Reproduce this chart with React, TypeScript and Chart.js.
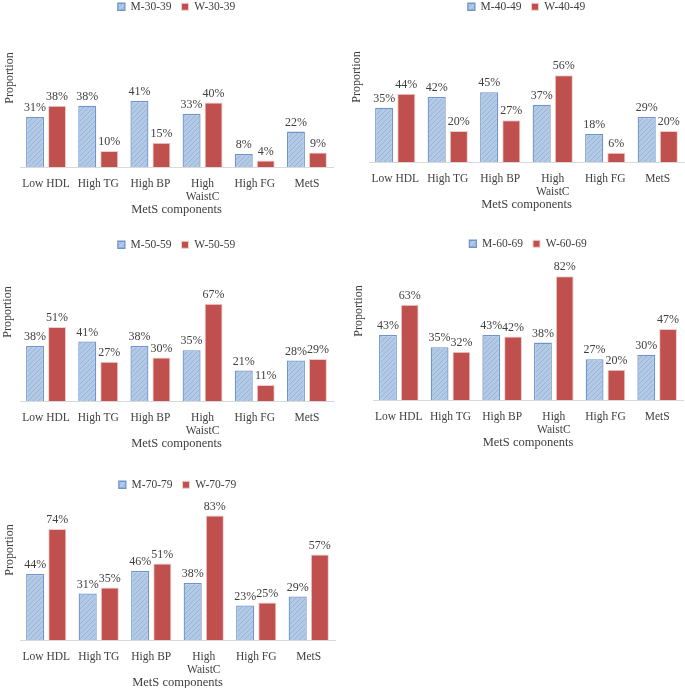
import React, { useEffect, useRef } from 'react';
import { Chart, registerables } from 'chart.js';
Chart.register(...registerables);

const categories: (string | string[])[] = ['Low HDL', 'High TG', 'High BP', ['High', 'WaistC'], 'High FG', 'MetS'];
const ageGroups = ['30-39', '40-49', '50-59', '60-69', '70-79'];
const men30 = [31, 38, 41, 33, 8, 22];
const women30 = [38, 10, 15, 40, 4, 9];
const men40 = [35, 42, 45, 37, 18, 29];
const women40 = [44, 20, 27, 56, 6, 20];
const men50 = [38, 41, 38, 35, 21, 28];
const women50 = [51, 27, 30, 67, 11, 29];
const men60 = [43, 35, 43, 38, 27, 30];
const women60 = [63, 32, 42, 82, 20, 47];
const men70 = [44, 31, 46, 38, 23, 29];
const women70 = [74, 35, 51, 83, 25, 57];

const xTitle = 'MetS components';
const yTitle = 'Proportion';
const FONT = "'Liberation Serif', 'Times New Roman', serif";
const TEXT = '#404040';

type PanelCfg = {
  age: string;
  men: number[];
  women: number[];
  left: number; top: number; width: number; height: number;
  axisLeft: number; axisRight: number; baseline: number; ppp: number;
  propX: number; propY: number;
};

const panels: PanelCfg[] = [
  { age: ageGroups[0], men: men30, women: women30, left: 0, top: -9, width: 340, height: 245, axisLeft: 20, axisRight: 333, baseline: 167, ppp: 1.61, propX: 10, propY: 78 },
  { age: ageGroups[1], men: men40, women: women40, left: 340, top: -9, width: 345, height: 245, axisLeft: 369, axisRight: 684, baseline: 162, ppp: 1.55, propX: 357, propY: 77 },
  { age: ageGroups[2], men: men50, women: women50, left: 0, top: 229, width: 340, height: 245, axisLeft: 20, axisRight: 333, baseline: 401, ppp: 1.45, propX: 8, propY: 312 },
  { age: ageGroups[3], men: men60, women: women60, left: 340, top: 228, width: 345, height: 245, axisLeft: 373, axisRight: 683, baseline: 400, ppp: 1.51, propX: 359, propY: 311 },
  { age: ageGroups[4], men: men70, women: women70, left: 0, top: 469, width: 340, height: 240, axisLeft: 20, axisRight: 335, baseline: 640, ppp: 1.5, propX: 10, propY: 550 },
];

function makeHatch(ctx: CanvasRenderingContext2D): CanvasPattern | string {
  const c = document.createElement('canvas');
  c.width = 5; c.height = 5;
  const p = c.getContext('2d');
  if (!p) return '#a9c2e0';
  p.fillStyle = '#b3cae6';
  p.fillRect(0, 0, 5, 5);
  p.strokeStyle = '#9ab4d8';
  p.lineWidth = 1;
  p.beginPath();
  p.moveTo(-1, 6); p.lineTo(6, -1);
  p.moveTo(-1, 1); p.lineTo(1, -1);
  p.moveTo(4, 6); p.lineTo(6, 4);
  p.stroke();
  return ctx.createPattern(c, 'repeat') || '#a9c2e0';
}

function PanelChart({ cfg }: { cfg: PanelCfg }) {
  const ref = useRef<HTMLCanvasElement>(null);
  useEffect(() => {
    const canvas = ref.current;
    if (!canvas) return;
    const ctx = canvas.getContext('2d');
    if (!ctx) return;
    const hatch = makeHatch(ctx);

    const valueLabels = {
      id: 'valueLabels',
      afterDatasetsDraw(chart: any) {
        const c = chart.ctx;
        c.save();
        c.font = `12px ${FONT}`;
        c.fillStyle = TEXT;
        c.textAlign = 'center';
        c.textBaseline = 'bottom';
        chart.data.datasets.forEach((ds: any, i: number) => {
          const meta = chart.getDatasetMeta(i);
          meta.data.forEach((el: any, j: number) => {
            c.fillText(`${ds.data[j]}%`, el.x, el.y - 3);
          });
        });
        c.restore();
      },
    };

    const yTitlePlugin = {
      id: 'yTitlePlugin',
      afterDraw(chart: any) {
        const c = chart.ctx;
        c.save();
        c.font = `12px ${FONT}`;
        c.fillStyle = TEXT;
        c.textAlign = 'center';
        c.textBaseline = 'middle';
        c.translate(cfg.propX - cfg.left, cfg.propY - cfg.top);
        c.rotate(-Math.PI / 2);
        c.fillText(yTitle, 0, 0);
        c.restore();
      },
    };

    const chart = new Chart(canvas, {
      type: 'bar',
      data: {
        labels: categories as any,
        datasets: [
          {
            label: `M-${cfg.age}`,
            data: cfg.men,
            backgroundColor: hatch as any,
            borderColor: '#6f95cc',
            borderWidth: 1.3,
            categoryPercentage: 0.843,
            barPercentage: 0.818,
          },
          {
            label: `W-${cfg.age}`,
            data: cfg.women,
            backgroundColor: '#c0504d',
            borderColor: '#efcfce',
            borderWidth: 1,
            categoryPercentage: 0.843,
            barPercentage: 0.818,
          },
        ],
      },
      options: {
        responsive: false,
        animation: false,
        events: [],
        layout: {
          padding: {
            left: cfg.axisLeft - cfg.left,
            right: cfg.left + cfg.width - cfg.axisRight,
            top: 0,
            bottom: 0,
          },
        },
        plugins: {
          legend: {
            display: true,
            position: 'top',
            labels: {
              boxWidth: 7,
              boxHeight: 7,
              padding: 10,
              color: TEXT,
              font: { family: FONT, size: 11.5 },
            },
          },
          tooltip: { enabled: false },
        },
        scales: {
          x: {
            grid: { display: false, drawTicks: false },
            border: { display: true, color: '#d9d9d9', width: 1 },
            ticks: {
              padding: 10,
              color: TEXT,
              autoSkip: false,
              maxRotation: 0,
              font: { family: FONT, size: 11.5, lineHeight: 1.15 },
            },
            title: {
              display: true,
              text: xTitle,
              color: TEXT,
              font: { family: FONT, size: 12.5 },
              padding: { top: -11, bottom: 0 },
            },
          },
          y: { display: false, min: 0, max: 100 },
        },
      },
      plugins: [valueLabels, yTitlePlugin],
    });

    const ca = chart.chartArea;
    const desired = cfg.baseline - cfg.top;
    const pad = Math.max(0, ca.bottom - desired);
    (chart.options.layout as any).padding.bottom = pad;
    (chart.options.scales as any).y.max = (desired - ca.top) / cfg.ppp;
    chart.update();

    return () => chart.destroy();
  }, [cfg]);

  return (
    <canvas
      ref={ref}
      width={cfg.width}
      height={cfg.height}
      style={{ position: 'absolute', left: cfg.left, top: cfg.top, width: cfg.width, height: cfg.height }}
    />
  );
}

export default function App() {
  return (
    <div style={{ position: 'absolute', left: 0, top: 0, width: 685, height: 688, background: '#ffffff', overflow: 'hidden' }}>
      {panels.map((p) => (
        <PanelChart key={p.age} cfg={p} />
      ))}
    </div>
  );
}
